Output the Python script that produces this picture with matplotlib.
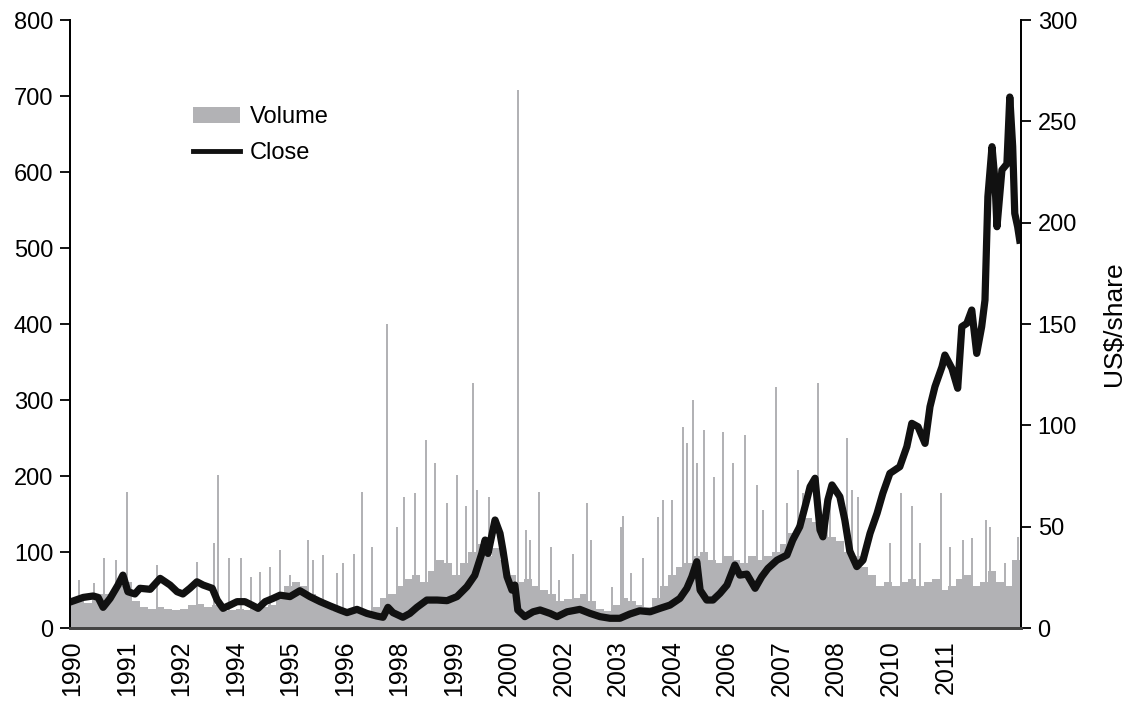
import numpy as np
import matplotlib
matplotlib.use("Agg")
from matplotlib import pyplot as plt
from matplotlib.patches import Patch
from matplotlib.lines import Line2D

plt.rcParams['font.family'] = ['Liberation Sans', 'DejaVu Sans']

# closing price, US$/share (decimal year, value)
close_year = [1990.27, 1990.52, 1990.76, 1990.88, 1991.00, 1991.17, 1991.36, 1991.48, 1991.60, 1991.77,
              1991.89, 1992.14, 1992.38, 1992.62, 1992.79, 1992.93, 1993.10, 1993.27, 1993.42, 1993.64,
              1993.76, 1993.90, 1994.07, 1994.24, 1994.43, 1994.60, 1994.75, 1994.92, 1995.11, 1995.28,
              1995.52, 1995.76, 1996.00, 1996.25, 1996.49, 1996.73, 1996.90, 1997.14, 1997.38, 1997.62,
              1997.77, 1997.89, 1998.01, 1998.25, 1998.42, 1998.59, 1998.83, 1999.08, 1999.32, 1999.56,
              1999.80, 1999.99, 2000.16, 2000.24, 2000.31, 2000.48, 2000.60, 2000.67, 2000.77, 2000.89,
              2000.96, 2001.03, 2001.20, 2001.40, 2001.57, 2001.81, 2001.98, 2002.22, 2002.53, 2002.78,
              2003.02, 2003.26, 2003.50, 2003.74, 2003.98, 2004.23, 2004.47, 2004.71, 2004.95, 2005.12,
              2005.24, 2005.36, 2005.44, 2005.60, 2005.75, 2005.92, 2006.09, 2006.28, 2006.40, 2006.57,
              2006.77, 2006.93, 2007.08, 2007.30, 2007.54, 2007.68, 2007.85, 2008.02, 2008.10, 2008.22,
              2008.34, 2008.41, 2008.53, 2008.63, 2008.82, 2008.94, 2009.06, 2009.23, 2009.38, 2009.55,
              2009.72, 2009.86, 2010.03, 2010.27, 2010.44, 2010.56, 2010.71, 2010.88, 2011.00, 2011.12,
              2011.29, 2011.36, 2011.53, 2011.67, 2011.77, 2011.89, 2012.01, 2012.13, 2012.25, 2012.33,
              2012.40, 2012.50, 2012.57, 2012.62, 2012.74, 2012.86, 2012.93, 2013.00, 2013.05, 2013.12,
              2013.17]
close_val = [13.3, 15.1, 15.8, 15.1, 10.2, 14.6, 21.2, 26.1, 17.9, 16.8,
             19.6, 19.1, 24.5, 21.2, 17.9, 16.8, 19.6, 22.8, 21.2, 19.6,
             13.8, 9.7, 11.3, 13.0, 13.0, 11.3, 9.7, 13.0, 14.6, 16.2,
             15.5, 18.4, 15.5, 13.0, 10.9, 8.9, 7.6, 9.2, 7.2, 5.9,
             5.3, 10.2, 7.6, 5.3, 7.2, 10.2, 13.8, 13.8, 13.5, 15.5,
             20.4, 26.0, 36.8, 43.4, 36.8, 53.3, 46.7, 38.5, 25.3, 18.7,
             21.2, 8.9, 5.6, 8.0, 8.9, 7.2, 5.6, 8.0, 9.2, 7.2,
             5.6, 4.8, 4.8, 6.9, 8.5, 8.0, 9.7, 11.3, 14.6, 19.6,
             25.3, 32.7, 18.7, 13.8, 13.8, 17.1, 21.2, 31.1, 26.1, 26.6,
             19.6, 25.3, 29.4, 33.5, 36.0, 43.4, 50.0, 63.2, 69.7, 73.9,
             48.4, 45.0, 63.2, 70.6, 64.8, 53.3, 38.0, 30.3, 33.5, 46.7,
             56.6, 66.5, 76.3, 79.6, 89.5, 101.0, 99.3, 91.1, 109.2, 119.1,
             128.9, 134.7, 128.1, 118.3, 148.7, 150.3, 156.9, 135.5, 148.7, 161.8,
             212.8, 237.5, 221.0, 198.0, 226.0, 229.0, 262.0, 237.5, 204.6, 198.0,
             191.4]

# typical traded volume, one bar per period
vol_base = [35, 38, 33, 38, 45, 45, 55, 60, 35, 28,
            25, 28, 25, 24, 25, 30, 32, 28, 30, 22,
            24, 25, 24, 25, 28, 30, 45, 55, 60, 55,
            45, 40, 28, 22, 20, 20, 22, 22, 28, 40,
            45, 55, 65, 70, 60, 75, 90, 85, 70, 85,
            100, 110, 95, 105, 90, 70, 60, 65, 55, 50,
            45, 35, 38, 40, 45, 35, 25, 22, 30, 40,
            35, 30, 28, 40, 55, 70, 80, 85, 95, 100,
            90, 85, 95, 90, 85, 95, 90, 95, 100, 110,
            125, 135, 145, 140, 135, 120, 115, 100, 95, 80,
            70, 55, 60, 55, 60, 65, 55, 60, 65, 50,
            55, 65, 70, 55, 60, 75, 60, 55, 90]

# single-day volume spikes (decimal year, value)
spike_year = [1990.42, 1990.78, 1991.02, 1991.31, 1991.58, 1992.31, 1993.27, 1993.68, 1993.78, 1994.05,
              1994.34, 1994.58, 1994.80, 1995.04, 1995.28, 1995.52, 1995.96, 1996.08, 1996.32, 1996.66,
              1996.80, 1997.07, 1997.26, 1997.50, 1997.87, 1998.11, 1998.28, 1998.54, 1998.81, 1999.03,
              1999.32, 1999.56, 1999.78, 1999.95, 2000.04, 2000.33, 2001.03, 2001.23, 2001.32, 2001.54,
              2001.83, 2002.03, 2002.36, 2002.70, 2002.80, 2003.31, 2003.52, 2003.57, 2003.77, 2004.06,
              2004.42, 2004.54, 2004.76, 2005.02, 2005.12, 2005.27, 2005.36, 2005.53, 2005.77, 2005.99,
              2006.23, 2006.52, 2006.81, 2006.96, 2007.27, 2007.54, 2007.81, 2007.93, 2008.29, 2008.58,
              2008.99, 2009.11, 2009.26, 2010.03, 2010.30, 2010.56, 2010.76, 2011.26, 2011.48, 2011.79,
              2012.01, 2012.35, 2012.45, 2012.81, 2013.12]
spike_val = [63, 59, 92, 90, 179, 83, 87, 112, 201, 92,
             92, 67, 74, 80, 103, 70, 116, 89, 96, 72,
             85, 98, 179, 107, 400, 133, 173, 177, 247, 217,
             164, 201, 160, 322, 182, 173, 708, 129, 116, 179,
             107, 63, 98, 164, 116, 54, 133, 148, 72, 92,
             146, 168, 168, 265, 243, 300, 217, 260, 199, 258,
             217, 254, 188, 155, 317, 164, 208, 178, 322, 173,
             250, 182, 173, 112, 178, 160, 112, 178, 107, 116,
             118, 142, 133, 85, 120]

tick_labels = ['1990', '1991', '1992', '1994', '1995', '1996', '1998', '1999', '2000',
               '2002', '2003', '2004', '2006', '2007', '2008', '2010', '2011']

grey = '#b2b2b5'
vol_year = np.linspace(1990.25, 2013.08, len(vol_base))
bar_w = vol_year[1] - vol_year[0]

fig = plt.figure(figsize=(11.31, 7.05), dpi=100)
ax = fig.add_axes([0.0619, 0.1092, 0.8408, 0.8624])
ax.bar(vol_year, vol_base, width=bar_w, color=grey, linewidth=0)
ax.bar(spike_year, spike_val, width=0.05, color=grey, linewidth=0)
ax.set_ylim(0, 800)
ax.set_xlim(1990.20, 2013.20)
ax.set_yticks(range(0, 801, 100))

tick_pos = [1990.25 + 1.32 * k for k in range(len(tick_labels))]
ax.set_xticks(tick_pos)
ax.set_xticklabels(tick_labels, rotation=90, fontsize=18)
ax.tick_params(axis='x', length=0, pad=9)
ax.tick_params(axis='y', labelsize=17, length=7, width=1.3, direction='out', pad=5)

ax2 = ax.twinx()
ax2.plot(close_year, close_val, color='#111111', linewidth=5.2, solid_joinstyle='round')
ax2.set_ylim(0, 300)
ax2.set_yticks(range(0, 301, 50))
ax2.tick_params(axis='y', labelsize=17, length=7, width=1.3, direction='out', pad=5)
ax2.set_ylabel('US$/share', fontsize=19, labelpad=18)

for a in (ax, ax2):
    a.spines['top'].set_visible(False)
    a.spines['left'].set_linewidth(1.3)
    a.spines['right'].set_linewidth(1.3)
    a.spines['bottom'].set_linewidth(2.0)
    a.spines['bottom'].set_color('#444444')

handles = [Patch(facecolor=grey, edgecolor='none'),
           Line2D([0], [0], color='#111111', linewidth=3.5)]
ax2.legend(handles, ['Volume', 'Close'], loc='upper left', bbox_to_anchor=(0.107, 0.893),
           frameon=False, fontsize=17, handlelength=2.0, handleheight=0.7,
           handletextpad=0.4, labelspacing=0.6)

fig.savefig('out.png', dpi=100)
